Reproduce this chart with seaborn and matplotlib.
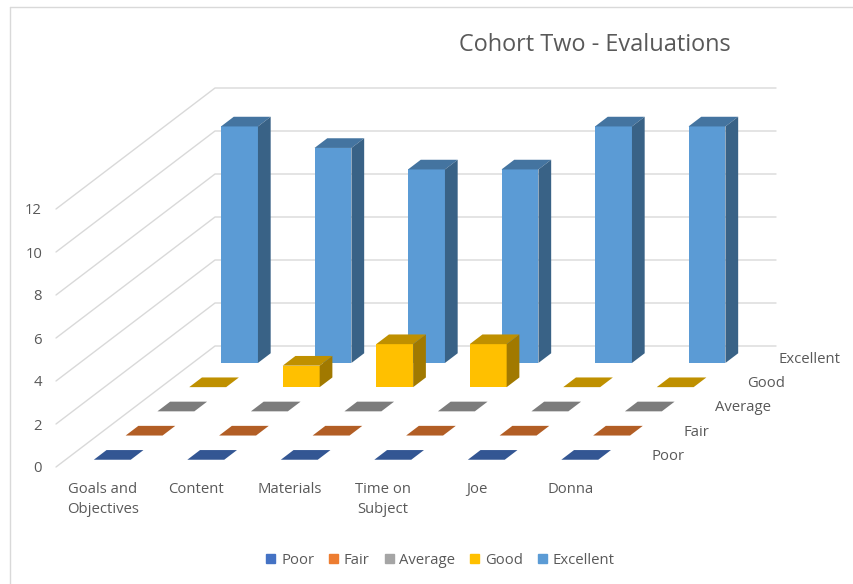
import numpy as np
import pandas as pd
import matplotlib.pyplot as plt
import seaborn as sns
from matplotlib.patches import Patch, Polygon
from matplotlib.lines import Line2D
from matplotlib.transforms import Affine2D
import matplotlib.colors as mc

categories = ['Goals and\nObjectives', 'Content', 'Materials', 'Time on\nSubject', 'Joe', 'Donna']
series_names = ['Poor', 'Fair', 'Average', 'Good', 'Excellent']
poor = [0, 0, 0, 0, 0, 0]
fair = [0, 0, 0, 0, 0, 0]
average = [0, 0, 0, 0, 0, 0]
good = [0, 1, 2, 2, 0, 0]
excellent = [11, 10, 9, 9, 11, 11]
series_values = [poor, fair, average, good, excellent]
y_ticks = [0, 2, 4, 6, 8, 10, 12]
colors = ['#4472C4', '#ED7D31', '#A5A5A5', '#FFC000', '#5B9BD5']

sns.set_theme(style='white')
plt.rcParams['font.family'] = ['Open Sans', 'DejaVu Sans']
TXT = '#595959'
GRID = '#D9D9D9'
W, H = 854, 584

fig = plt.figure(figsize=(W / 100, H / 100), dpi=100)
ax = fig.add_axes([56 / W, (H - 467) / H, 561 / W, 258 / H])
ax.patch.set_alpha(0)
xmin, xmax = -0.5, 5.5
ax.set_xlim(xmin, xmax)
ax.set_ylim(0, 12)

# oblique depth: one series row moves this far in category / value units
kx = 31.8 / 93.5
ky = 24.2 / 21.5
n_rows = len(series_names)


def shade(c, f):
    r, g, b = mc.to_rgb(c)
    return (r * f, g * f, b * f)


for v in y_ticks:
    ax.plot([xmin, xmin + n_rows * kx, xmax + n_rows * kx],
            [v, v + n_rows * ky, v + n_rows * ky],
            color=GRID, lw=1, clip_on=False, zorder=1)

bar_w = 0.395
row_lo, row_hi = 0.3, 0.7
for j in range(n_rows - 1, -1, -1):
    df = pd.DataFrame({'cat': categories, 'val': series_values[j]})
    z = 10 + (n_rows - j) * 3
    sns.barplot(data=df, x='cat', y='val', color=colors[j], saturation=1,
                width=bar_w, linewidth=0, errorbar=None, ax=ax)
    shift = Affine2D().translate((j + row_lo) * kx, (j + row_lo) * ky)
    for p in ax.containers[-1]:
        p.set_transform(shift + ax.transData)
        p.set_clip_on(False)
        p.set_zorder(z)
    dx = (row_hi - row_lo) * kx
    dy = (row_hi - row_lo) * ky
    for i, val in enumerate(series_values[j]):
        x0 = i - bar_w / 2 + (j + row_lo) * kx
        x1 = i + bar_w / 2 + (j + row_lo) * kx
        y0 = (j + row_lo) * ky
        y1 = val + (j + row_lo) * ky
        ax.add_patch(Polygon([(x0, y1), (x1, y1), (x1 + dx, y1 + dy), (x0 + dx, y1 + dy)],
                             fc=shade(colors[j], 0.75), ec='none', clip_on=False, zorder=z + 1))
        if val > 0:
            ax.add_patch(Polygon([(x1, y0), (x1 + dx, y0 + dy), (x1 + dx, y1 + dy), (x1, y1)],
                                 fc=shade(colors[j], 0.63), ec='none', clip_on=False, zorder=z + 1))
    ax.annotate(series_names[j], (xmax + (j + 0.5) * kx, (j + 0.5) * ky),
                xytext=(13.5, -1), textcoords='offset points', va='center', ha='left',
                fontsize=10.7, color=TXT, annotation_clip=False)

ax.set_xlim(xmin, xmax)
ax.set_ylim(0, 12)
ax.set_xlabel('')
ax.set_ylabel('')
ax.set_yticks(y_ticks)
ax.set_xticks(range(len(categories)))
ax.set_xticklabels(categories, linespacing=1.5)
ax.tick_params(axis='y', length=0, pad=10, labelsize=10.7, labelcolor=TXT)
ax.tick_params(axis='x', length=0, pad=10.5, labelsize=10.7, labelcolor=TXT)
sns.despine(ax=ax, left=True, bottom=True)

fig.text(594.5 / W, 1 - 45 / H, 'Cohort Two - Evaluations', ha='center', va='center',
         fontsize=16.9, color=TXT)

handles = [Patch(color=c, label=n) for c, n in zip(colors, series_names)]
fig.legend(handles=handles, loc='center', bbox_to_anchor=(440.5 / W, 1 - 560 / H), ncol=5,
           frameon=False, fontsize=10.7, labelcolor=TXT, handlelength=0.6, handleheight=0.6,
           handletextpad=0.4, columnspacing=1.0)

# chart area border
fig.add_artist(Line2D([10 / W, 10 / W], [0, 1 - 6.5 / H], color=GRID, lw=1))
fig.add_artist(Line2D([10 / W, 853 / W], [1 - 6.5 / H, 1 - 6.5 / H], color=GRID, lw=1))

fig.savefig('out.png', dpi=100)
